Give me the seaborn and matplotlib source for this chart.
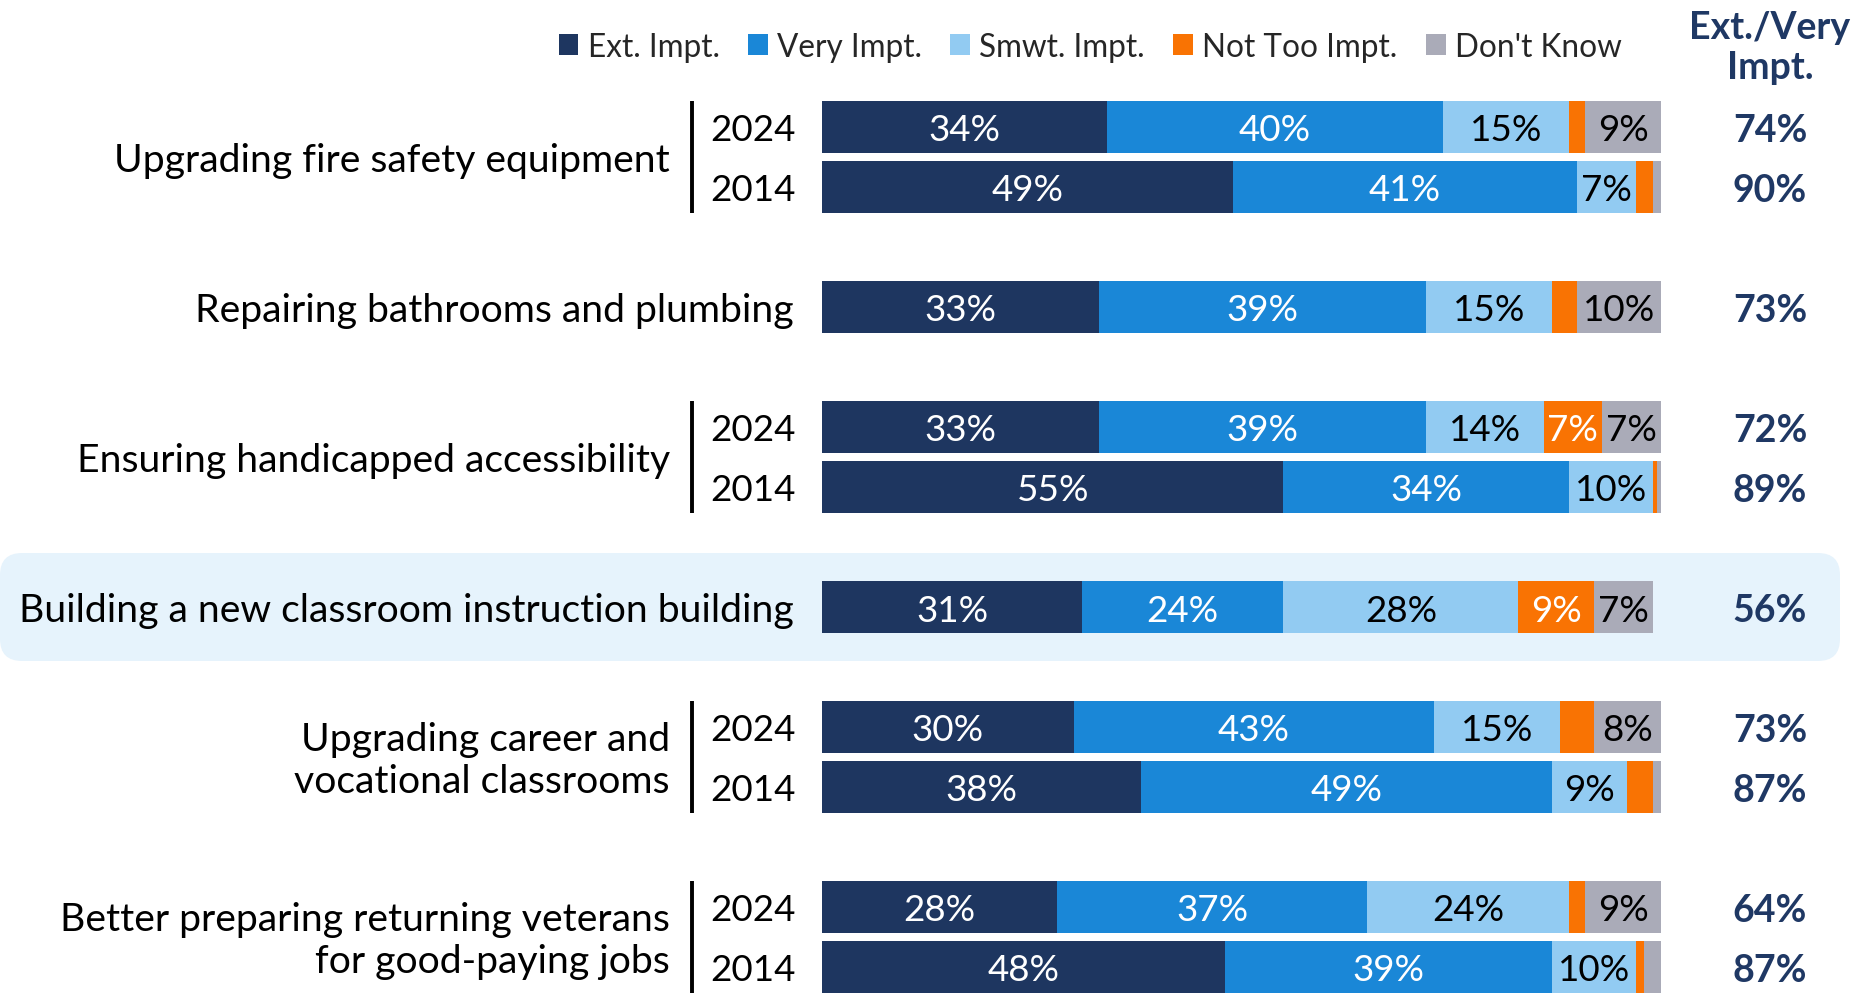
import numpy as np
import pandas as pd
import seaborn as sns
import matplotlib.pyplot as plt
from matplotlib.patches import Patch, FancyBboxPatch

sns.set_theme(style="white")
plt.rcParams["font.family"] = ["Lato", "DejaVu Sans"]

# ---- data -------------------------------------------------------------
categories = [
    "Upgrading fire safety equipment",
    "Repairing bathrooms and plumbing",
    "Ensuring handicapped accessibility",
    "Building a new classroom instruction building",
    "Upgrading career and\nvocational classrooms",
    "Better preparing returning veterans\nfor good-paying jobs",
]
row_category = [0, 0, 1, 2, 2, 3, 4, 4, 5, 5]
row_year = ["2024", "2014", "", "2024", "2014", "", "2024", "2014", "2024", "2014"]
row_slot = [0, 1, 3, 5, 6, 8, 10, 11, 13, 14]

ext_impt = [34, 49, 33, 33, 55, 31, 30, 38, 28, 48]
very_impt = [40, 41, 39, 39, 34, 24, 43, 49, 37, 39]
smwt_impt = [15, 7, 15, 14, 10, 28, 15, 9, 24, 10]
not_too_impt = [2, 2, 3, 7, 0.5, 9, 4, 3, 2, 1]
dont_know = [9, 1, 10, 7, 0.5, 7, 8, 1, 9, 2]
ext_very_total = [74, 90, 73, 72, 89, 56, 73, 87, 64, 87]

series_names = ["Ext. Impt.", "Very Impt.", "Smwt. Impt.", "Not Too Impt.", "Don't Know"]
series_values = [ext_impt, very_impt, smwt_impt, not_too_impt, dont_know]
series_colors = ["#1E3660", "#1A87D7", "#92CBF2", "#F97303", "#AAABB8"]
label_colors = ["white", "white", "black", "white", "black"]
highlight_category = 3

# ---- figure -----------------------------------------------------------
W, H, DPI = 1859, 995, 100
fig = plt.figure(figsize=(W / DPI, H / DPI), dpi=DPI)
bar_left_px, bar_right_px = 822, 1661
ax = fig.add_axes([bar_left_px / W, 0, (bar_right_px - bar_left_px) / W, 1])

slot_px, first_px = 60, 128
y_top = -first_px / slot_px
y_bottom = (H - first_px) / slot_px

df = pd.DataFrame({"slot": row_slot})
for name, vals in zip(series_names, series_values):
    df[name] = vals
cum = df[series_names].cumsum(axis=1)

BAR_H = 0.86
# stacked bars: draw cumulative totals from the outermost segment inward
for k in range(len(series_names) - 1, -1, -1):
    sns.barplot(
        x=cum[series_names[k]], y=df["slot"], orient="h", native_scale=True,
        color=series_colors[k], width=BAR_H, errorbar=None, ax=ax,
        saturation=1, linewidth=0,
    )

ax.set_xlim(0, 100)
ax.set_ylim(y_bottom, y_top)
ax.axis("off")

def px_to_x(px):
    return (px - bar_left_px) / (bar_right_px - bar_left_px) * 100

TXT_DY = 0.05      # small downward nudge so text sits on the bar's optical centre
VAL_FS = 26.5
CAT_FS = 28.2
# segment value labels
for k, name in enumerate(series_names):
    for i in range(len(df)):
        v = df[name].iloc[i]
        if v >= 5:
            xc = cum[name].iloc[i] - v / 2
            ax.text(xc, df["slot"].iloc[i] + TXT_DY, f"{v:g}%", ha="center", va="center",
                    fontsize=VAL_FS, color=label_colors[k], clip_on=False)

# totals column
navy = "#1F3864"
x_total = px_to_x(1770)
for i in range(len(df)):
    ax.text(x_total, df["slot"].iloc[i] + TXT_DY, f"{ext_very_total[i]}%", ha="center",
            va="center", fontsize=27, fontweight="bold", color=navy, clip_on=False)
ax.text(x_total, -1.33, "Ext./Very\nImpt.", ha="center", va="center", fontsize=27,
        fontweight="bold", color=navy, linespacing=1.22, clip_on=False)

# category labels, year labels and brackets
x_cat_pair = px_to_x(670)
x_cat_single = px_to_x(794)
x_year = px_to_x(710)
x_bracket = px_to_x(692)
for c, cat in enumerate(categories):
    idx = [i for i in range(len(df)) if row_category[i] == c]
    slots = [row_slot[i] for i in idx]
    yc = np.mean(slots)
    if len(idx) > 1:
        ax.text(x_cat_pair, yc + TXT_DY, cat, ha="right", va="center", fontsize=CAT_FS,
                linespacing=1.2, color="black", clip_on=False)
        ax.plot([x_bracket, x_bracket], [min(slots) - BAR_H / 2, max(slots) + BAR_H / 2],
                color="black", lw=2.8, clip_on=False, solid_capstyle="butt")
        for i in idx:
            ax.text(x_year, row_slot[i] + TXT_DY, row_year[i], ha="left", va="center",
                    fontsize=VAL_FS, color="black", clip_on=False)
    else:
        ax.text(x_cat_single, yc + TXT_DY, cat, ha="right", va="center", fontsize=CAT_FS,
                color="black", clip_on=False)

# highlight band behind one category
fig.canvas.draw()
hs = row_slot[row_category.index(highlight_category)]
_, y_hi = ax.transData.transform((0, hs - 0.9))
_, y_lo = ax.transData.transform((0, hs + 0.9))
band = FancyBboxPatch((0, y_lo), 1840, y_hi - y_lo,
                      boxstyle="round,pad=0,rounding_size=22",
                      transform=None, facecolor="#E6F3FC", edgecolor="none", zorder=-10)
fig.patches.append(band)
band.set_figure(fig)

# legend
handles = [Patch(facecolor=c, edgecolor="none") for c in series_colors]
fig.legend(handles, series_names, loc="center", bbox_to_anchor=(0.5865, 0.952), ncol=5,
           frameon=False, fontsize=22.7, handlelength=0.62, handleheight=0.62,
           handletextpad=0.3, columnspacing=0.9, borderaxespad=0)

fig.savefig("out.png", dpi=DPI)
